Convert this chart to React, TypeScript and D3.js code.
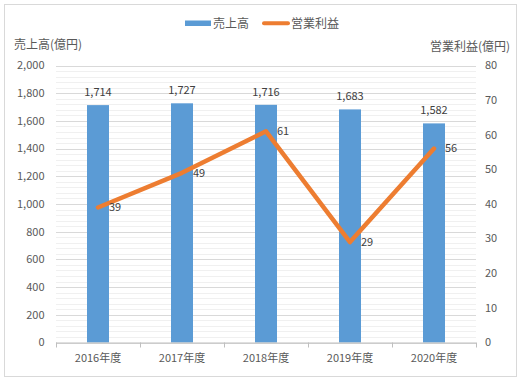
import React from "react";
import * as d3 from "d3";

const categories = ["2016年度", "2017年度", "2018年度", "2019年度", "2020年度"];
const sales = [1714, 1727, 1716, 1683, 1582];
const profit = [39, 49, 61, 29, 56];
const leftTicks = [0, 200, 400, 600, 800, 1000, 1200, 1400, 1600, 1800, 2000];
const rightTicks = [0, 10, 20, 30, 40, 50, 60, 70, 80];

const W = 521;
const H = 380;
const FONT = "'Noto Sans CJK JP', 'Noto Sans', sans-serif";
const TXT = "#595959";

export default function App() {
  const x0 = 56, x1 = 476, yTop = 65.5, yBot = 342.5;
  const x = d3.scaleBand<string>().domain(categories).range([x0, x1]);
  const yL = d3.scaleLinear().domain([0, 2000]).range([yBot, yTop]);
  const yR = d3.scaleLinear().domain([0, 80]).range([yBot, yTop]);
  const minor = d3.range(0, 2001, 40);
  const barW = 22;
  const cx = (c: string) => (x(c) as number) + x.bandwidth() / 2;
  const line = d3
    .line<number>()
    .x((_, i) => cx(categories[i]))
    .y((d) => yR(d));

  return (
    <svg
      width={W}
      height={H}
      style={{ position: "absolute", left: 0, top: 0, fontFamily: FONT }}
    >
      <rect x={0} y={0} width={W} height={H} fill="#fff" />
      <rect x={4.5} y={4.5} width={512} height={372} fill="#fff" stroke="#d9d9d9" />
      {minor.map((v) => (
        <line
          key={"m" + v}
          x1={x0}
          x2={x1}
          y1={Math.round(yL(v)) + 0.5}
          y2={Math.round(yL(v)) + 0.5}
          stroke={v % 200 === 0 ? "#d9d9d9" : "#f0f0f0"}
        />
      ))}
      {sales.map((v, i) => (
        <rect
          key={"b" + i}
          x={cx(categories[i]) - barW / 2}
          y={yL(v)}
          width={barW}
          height={yBot - yL(v)}
          fill="#5B9BD5"
        />
      ))}
      <line x1={x0} x2={x1} y1={yBot + 0.5} y2={yBot + 0.5} stroke="#bfbfbf" />
      {d3.range(0, categories.length + 1).map((i) => {
        const xx = Math.round(x0 + i * x.step()) + 0.5;
        return <line key={"t" + i} x1={xx} x2={xx} y1={yBot} y2={yBot + 5} stroke="#bfbfbf" />;
      })}
      <path
        d={line(profit) || ""}
        fill="none"
        stroke="#ED7D31"
        strokeWidth={4.5}
        strokeLinejoin="round"
        strokeLinecap="round"
      />
      {sales.map((v, i) => (
        <text
          key={"sl" + i}
          x={cx(categories[i])}
          y={yL(v) - 9}
          textAnchor="middle"
          fontSize={11}
          fill="#404040"
        >
          {d3.format(",")(v)}
        </text>
      ))}
      {profit.map((v, i) => (
        <text
          key={"pl" + i}
          x={cx(categories[i]) + 11}
          y={yR(v)}
          dy="0.35em"
          fontSize={11}
          fill="#404040"
        >
          {v}
        </text>
      ))}
      {leftTicks.map((v) => (
        <text key={"l" + v} x={44.5} y={yL(v)} dy="0.35em" textAnchor="end" fontSize={11} fill={TXT}>
          {d3.format(",")(v)}
        </text>
      ))}
      {rightTicks.map((v) => (
        <text key={"r" + v} x={485} y={yR(v)} dy="0.35em" textAnchor="start" fontSize={11} fill={TXT}>
          {v}
        </text>
      ))}
      {categories.map((c) => (
        <text key={"c" + c} x={cx(c)} y={358} dy="0.35em" textAnchor="middle" fontSize={11} fill={TXT}>
          {c}
        </text>
      ))}
      <text x={14} y={45} dy="0.35em" fontSize={12} fill={TXT}>
        売上高(億円)
      </text>
      <text x={510} y={47} dy="0.35em" textAnchor="end" fontSize={12} fill={TXT}>
        営業利益(億円)
      </text>
      <rect x={185} y={20.5} width={26} height={5.5} fill="#5B9BD5" />
      <text x={213} y={23.5} dy="0.35em" fontSize={12} fill={TXT}>
        売上高
      </text>
      <line x1={264} x2={288} y1={23.3} y2={23.3} stroke="#ED7D31" strokeWidth={4} strokeLinecap="round" />
      <text x={291} y={23.5} dy="0.35em" fontSize={12} fill={TXT}>
        営業利益
      </text>
    </svg>
  );
}
